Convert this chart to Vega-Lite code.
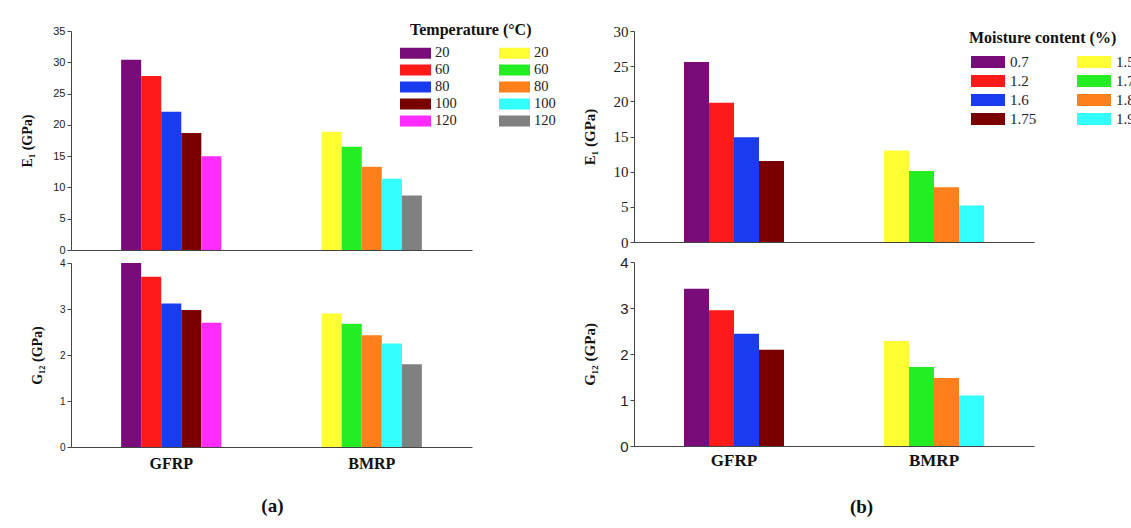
{
  "$schema": "https://vega.github.io/schema/vega-lite/v6.json",
  "padding": {"left": 20, "top": 22, "right": 0, "bottom": 0},
  "background": "white",
  "config": {
    "view": {"stroke": null},
    "axis": {"domainColor": "#444", "tickColor": "#444", "labelColor": "#222", "titleColor": "#111", "tickSize": 4, "grid": false},
    "legend": {"titleFont": "Liberation Serif", "titleFontSize": 16, "titleFontWeight": "bold", "titleColor": "#111", "labelFont": "Liberation Serif", "labelFontSize": 15, "labelColor": "#222"}
  },
  "datasets": {
    "a": [
      {"material": "GFRP", "cond": "20", "order": 1, "series": "GFRP 20", "E1": 30.4, "G12": 4.0},
      {"material": "GFRP", "cond": "60", "order": 2, "series": "GFRP 60", "E1": 27.8, "G12": 3.7},
      {"material": "GFRP", "cond": "80", "order": 3, "series": "GFRP 80", "E1": 22.1, "G12": 3.12},
      {"material": "GFRP", "cond": "100", "order": 4, "series": "GFRP 100", "E1": 18.7, "G12": 2.98},
      {"material": "GFRP", "cond": "120", "order": 5, "series": "GFRP 120", "E1": 15.0, "G12": 2.7},
      {"material": "BMRP", "cond": "20", "order": 1, "series": "BMRP 20", "E1": 18.9, "G12": 2.9},
      {"material": "BMRP", "cond": "60", "order": 2, "series": "BMRP 60", "E1": 16.5, "G12": 2.68},
      {"material": "BMRP", "cond": "80", "order": 3, "series": "BMRP 80", "E1": 13.3, "G12": 2.43},
      {"material": "BMRP", "cond": "100", "order": 4, "series": "BMRP 100", "E1": 11.4, "G12": 2.25},
      {"material": "BMRP", "cond": "120", "order": 5, "series": "BMRP 120", "E1": 8.7, "G12": 1.8}
    ],
    "b": [
      {"material": "GFRP", "cond": "0.7", "order": 1, "series": "GFRP 0.7", "E1": 25.6, "G12": 3.42},
      {"material": "GFRP", "cond": "1.2", "order": 2, "series": "GFRP 1.2", "E1": 19.8, "G12": 2.95},
      {"material": "GFRP", "cond": "1.6", "order": 3, "series": "GFRP 1.6", "E1": 14.9, "G12": 2.44},
      {"material": "GFRP", "cond": "1.75", "order": 4, "series": "GFRP 1.75", "E1": 11.5, "G12": 2.09},
      {"material": "BMRP", "cond": "1.5", "order": 1, "series": "BMRP 1.5", "E1": 13.0, "G12": 2.28},
      {"material": "BMRP", "cond": "1.7", "order": 2, "series": "BMRP 1.7", "E1": 10.1, "G12": 1.72},
      {"material": "BMRP", "cond": "1.8", "order": 3, "series": "BMRP 1.8", "E1": 7.8, "G12": 1.48},
      {"material": "BMRP", "cond": "1.9", "order": 4, "series": "BMRP 1.9", "E1": 5.2, "G12": 1.1}
    ]
  },
  "hconcat": [
    {
      "title": {"text": "(a)", "orient": "bottom", "anchor": "middle", "offset": 26, "dx": -16, "font": "Liberation Serif", "fontSize": 19, "fontWeight": "bold", "color": "#111"},
      "spacing": 3,
      "resolve": {"scale": {"color": "independent", "y": "independent", "xOffset": "independent"}},
      "vconcat": [
        {
          "data": {"name": "a"},
          "width": 401, "height": 219,
          "mark": {"type": "bar"},
          "encoding": {
            "x": {"field": "material", "type": "nominal", "sort": ["GFRP", "BMRP"], "scale": {"paddingInner": 0.5, "paddingOuter": 0.25},
                  "axis": {"labels": false, "ticks": false, "title": null}},
            "xOffset": {"field": "order", "type": "ordinal", "scale": {"domain": [1, 2, 3, 4, 5]}},
            "y": {"field": "E1", "type": "quantitative", "scale": {"domain": [0, 35]},
                  "axis": {"values": [0, 5, 10, 15, 20, 25, 30, 35], "title": "E₁ (GPa)", "titleFont": "Liberation Serif", "titleFontSize": 14, "titleFontWeight": "bold", "titlePadding": 18, "labelFont": "Liberation Sans", "labelFontSize": 11}},
            "color": {"field": "series", "type": "nominal",
              "scale": {"domain": ["GFRP 20", "GFRP 60", "GFRP 80", "GFRP 100", "GFRP 120", "BMRP 20", "BMRP 60", "BMRP 80", "BMRP 100", "BMRP 120"],
                        "range": ["#7a0c7a", "#ff1a1a", "#1a3cf0", "#7a0000", "#ff2bff", "#ffff33", "#22ee22", "#ff7f1a", "#33ffff", "#808080"]},
              "legend": {"title": "Temperature (°C)", "orient": "none", "legendX": 339, "legendY": -9, "columns": 2, "columnPadding": 42, "rowPadding": 2, "titlePadding": 7,
                         "symbolType": "M-1.9375,-0.6875H1.9375V0.6875H-1.9375Z", "symbolSize": 256, "symbolOffset": -2.5, "symbolStrokeWidth": 0, "symbolOpacity": 1, "labelOffset": 11.5,
                         "labelFont": "Liberation Serif", "labelFontSize": 14.5,
                         "labelExpr": "split(datum.label, ' ')[1]"}}
          }
        },
        {
          "data": {"name": "a"},
          "width": 401, "height": 184,
          "mark": {"type": "bar"},
          "encoding": {
            "x": {"field": "material", "type": "nominal", "sort": ["GFRP", "BMRP"], "scale": {"paddingInner": 0.5, "paddingOuter": 0.25},
                  "axis": {"ticks": false, "title": null, "labelAngle": 0, "labelFont": "Liberation Serif", "labelFontSize": 16, "labelFontWeight": "bold", "labelColor": "#111", "labelPadding": 8}},
            "xOffset": {"field": "order", "type": "ordinal", "scale": {"domain": [1, 2, 3, 4, 5]}},
            "y": {"field": "G12", "type": "quantitative", "scale": {"domain": [0, 4]},
                  "axis": {"values": [0, 1, 2, 3, 4], "title": "G₁₂ (GPa)", "titleFont": "Liberation Serif", "titleFontSize": 14, "titleFontWeight": "bold", "titlePadding": 15, "labelFont": "Liberation Sans", "labelFontSize": 10}},
            "color": {"field": "series", "type": "nominal",
              "scale": {"domain": ["GFRP 20", "GFRP 60", "GFRP 80", "GFRP 100", "GFRP 120", "BMRP 20", "BMRP 60", "BMRP 80", "BMRP 100", "BMRP 120"],
                        "range": ["#7a0c7a", "#ff1a1a", "#1a3cf0", "#7a0000", "#ff2bff", "#ffff33", "#22ee22", "#ff7f1a", "#33ffff", "#808080"]},
              "legend": null}
          }
        }
      ]
    },
    {
      "title": {"text": "(b)", "orient": "bottom", "anchor": "middle", "offset": 30, "dx": 3, "font": "Liberation Serif", "fontSize": 19, "fontWeight": "bold", "color": "#111"},
      "spacing": 5,
      "resolve": {"scale": {"color": "independent", "y": "independent", "xOffset": "independent"}},
      "vconcat": [
        {
          "data": {"name": "b"},
          "width": 400, "height": 211,
          "mark": {"type": "bar"},
          "encoding": {
            "x": {"field": "material", "type": "nominal", "sort": ["GFRP", "BMRP"], "scale": {"paddingInner": 0.5, "paddingOuter": 0.25},
                  "axis": {"labels": false, "ticks": false, "title": null}},
            "xOffset": {"field": "order", "type": "ordinal", "scale": {"domain": [1, 2, 3, 4]}},
            "y": {"field": "E1", "type": "quantitative", "scale": {"domain": [0, 30]},
                  "axis": {"values": [0, 5, 10, 15, 20, 25, 30], "title": "E₁ (GPa)", "titleFont": "Liberation Serif", "titleFontSize": 15, "titleFontWeight": "bold", "titlePadding": 16, "labelFont": "Liberation Serif", "labelFontSize": 15}},
            "color": {"field": "series", "type": "nominal",
              "scale": {"domain": ["GFRP 0.7", "GFRP 1.2", "GFRP 1.6", "GFRP 1.75", "BMRP 1.5", "BMRP 1.7", "BMRP 1.8", "BMRP 1.9"],
                        "range": ["#7a0c7a", "#ff1a1a", "#1a3cf0", "#7a0000", "#ffff33", "#22ee22", "#ff7f1a", "#33ffff"]},
              "legend": {"title": "Moisture content (%)", "orient": "none", "legendX": 335, "legendY": -1, "columns": 2, "columnPadding": 38, "rowPadding": 3, "titlePadding": 8,
                         "symbolType": "M-2.125,-0.75H2.125V0.75H-2.125Z", "symbolSize": 256, "symbolOffset": 11, "symbolStrokeWidth": 0, "symbolOpacity": 1, "labelOffset": 14,
                         "labelFont": "Liberation Serif", "labelFontSize": 15,
                         "labelExpr": "split(datum.label, ' ')[1]"}}
          }
        },
        {
          "data": {"name": "b"},
          "width": 400, "height": 184,
          "mark": {"type": "bar"},
          "encoding": {
            "x": {"field": "material", "type": "nominal", "sort": ["GFRP", "BMRP"], "scale": {"paddingInner": 0.5, "paddingOuter": 0.25},
                  "axis": {"ticks": false, "title": null, "labelAngle": 0, "labelFont": "Liberation Serif", "labelFontSize": 17, "labelFontWeight": "bold", "labelColor": "#111", "labelPadding": 6}},
            "xOffset": {"field": "order", "type": "ordinal", "scale": {"domain": [1, 2, 3, 4]}},
            "y": {"field": "G12", "type": "quantitative", "scale": {"domain": [0, 4]},
                  "axis": {"values": [0, 1, 2, 3, 4], "title": "G₁₂ (GPa)", "titleFont": "Liberation Serif", "titleFontSize": 15, "titleFontWeight": "bold", "titlePadding": 22, "labelFont": "Liberation Sans", "labelFontSize": 15}},
            "color": {"field": "series", "type": "nominal",
              "scale": {"domain": ["GFRP 0.7", "GFRP 1.2", "GFRP 1.6", "GFRP 1.75", "BMRP 1.5", "BMRP 1.7", "BMRP 1.8", "BMRP 1.9"],
                        "range": ["#7a0c7a", "#ff1a1a", "#1a3cf0", "#7a0000", "#ffff33", "#22ee22", "#ff7f1a", "#33ffff"]},
              "legend": null}
          }
        }
      ]
    }
  ],
  "spacing": 26,
  "resolve": {"scale": {"color": "independent", "y": "independent", "xOffset": "independent"}}
}
